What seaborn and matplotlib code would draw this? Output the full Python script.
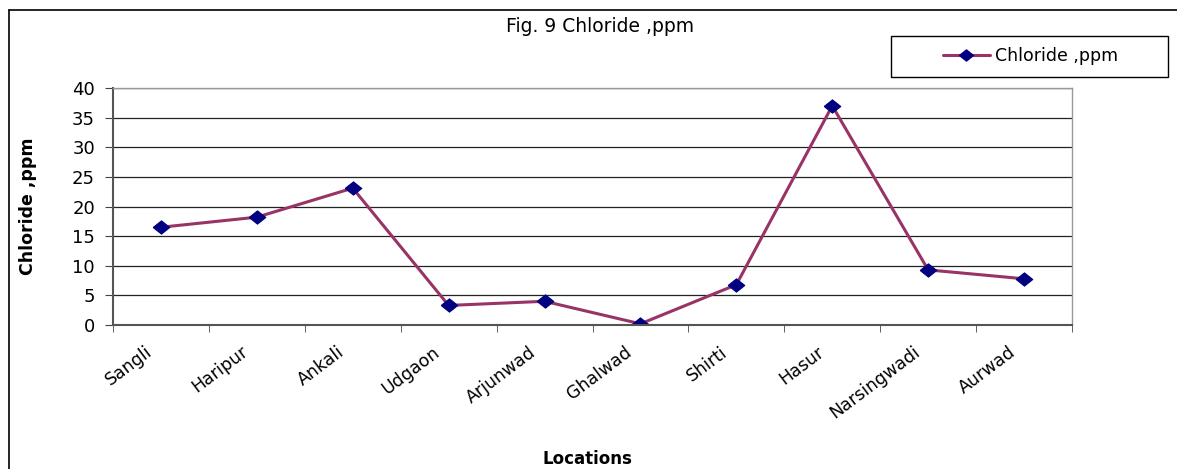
import matplotlib
matplotlib.use("Agg")
import matplotlib.pyplot as plt
import seaborn as sns
import pandas as pd
from matplotlib.lines import Line2D
from matplotlib.patches import Rectangle

# values
locations = ["Sangli", "Haripur", "Ankali", "Udgaon", "Arjunwad",
             "Ghalwad", "Shirti", "Hasur", "Narsingwadi", "Aurwad"]
chloride = [16.5, 18.2, 23.1, 3.3, 4.0, 0.2, 6.8, 37.0, 9.3, 7.8]
y_ticks = [0, 5, 10, 15, 20, 25, 30, 35, 40]

df = pd.DataFrame({"Locations": locations, "Chloride ,ppm": chloride})

sns.set_style("white")
plt.rcParams["font.family"] = ["DejaVu Sans"]
plt.rcParams["text.color"] = "black"
plt.rcParams["axes.labelcolor"] = "black"
plt.rcParams["xtick.color"] = "black"
plt.rcParams["ytick.color"] = "black"

W, H = 1177, 469
fig = plt.figure(figsize=(W / 100, H / 100), dpi=100)
ax = fig.add_axes([113 / W, 1 - 325 / H, (1072 - 113) / W, (325 - 88) / H])

# slightly wide diamond, like the stretched excel marker
diamond = [(-1, 0), (0, 0.8), (1, 0), (0, -0.8), (-1, 0)]
line_col = "#993366"
mark_col = "#000080"

sns.lineplot(data=df, x="Locations", y="Chloride ,ppm", ax=ax, sort=False,
             color=line_col, linewidth=2.2, marker=diamond, markersize=12,
             markerfacecolor=mark_col, markeredgecolor=mark_col)

ax.set_xlim(-0.5, len(locations) - 0.5)
ax.set_ylim(0, 40)
ax.set_yticks(y_ticks)
ax.yaxis.grid(True, color="#222222", linewidth=0.9)
ax.set_axisbelow(True)

# labels sit a little left of the category centre, as in the excel chart
ax.set_xticks([i - 0.11 for i in range(len(locations))])
ax.set_xticklabels(locations, rotation=37, ha="right", va="center",
                   rotation_mode="anchor", fontsize=12.5)
ax.set_xticks([i - 0.5 for i in range(len(locations) + 1)], minor=True)
ax.tick_params(axis="x", which="major", length=0, pad=18)
ax.tick_params(axis="x", which="minor", length=5, color="#444444", direction="out", bottom=True)
ax.tick_params(axis="y", length=6, color="#444444", direction="out", left=True,
               labelsize=13, pad=7)

for side in ["left", "bottom"]:
    ax.spines[side].set_color("#555555")
    ax.spines[side].set_linewidth(1.5)
for side in ["top", "right"]:
    ax.spines[side].set_color("#999999")
    ax.spines[side].set_linewidth(1)

ax.set_ylabel("Chloride ,ppm", fontsize=12.5, fontweight="bold")
ax.yaxis.set_label_coords((37 - 113) / (1072 - 113), 0.5)
ax.set_xlabel("Locations", fontsize=12, fontweight="bold", va="center")
ax.xaxis.set_label_coords((587 - 113) / (1072 - 113), -(459 - 325) / (325 - 88))

fig.text(600 / W, 1 - 27 / H, "Fig. 9 Chloride ,ppm", ha="center", va="center", fontsize=13.5)

# legend box
fig.add_artist(Rectangle((891 / W, 1 - 77 / H), (1168 - 891) / W, 41 / H,
                         transform=fig.transFigure, fill=False,
                         edgecolor="black", linewidth=1))
handle = Line2D([], [], color=line_col, linewidth=2.2, marker=diamond, markersize=10,
                markerfacecolor=mark_col, markeredgecolor=mark_col)
fig.legend([handle], ["Chloride ,ppm"], loc="center left",
           bbox_to_anchor=(943 / W, 1 - 56 / H), fontsize=12.5,
           frameon=False, borderpad=0, borderaxespad=0,
           handlelength=2.7, handletextpad=0.3)

# outer chart border (right and bottom run off the image)
fig.add_artist(Line2D([9 / W, 9 / W], [0, 1 - 10 / H], color="black", linewidth=1.2,
                      transform=fig.transFigure))
fig.add_artist(Line2D([9 / W, 1], [1 - 10 / H, 1 - 10 / H], color="black", linewidth=1.2,
                      transform=fig.transFigure))

fig.savefig("out.png", dpi=100)
